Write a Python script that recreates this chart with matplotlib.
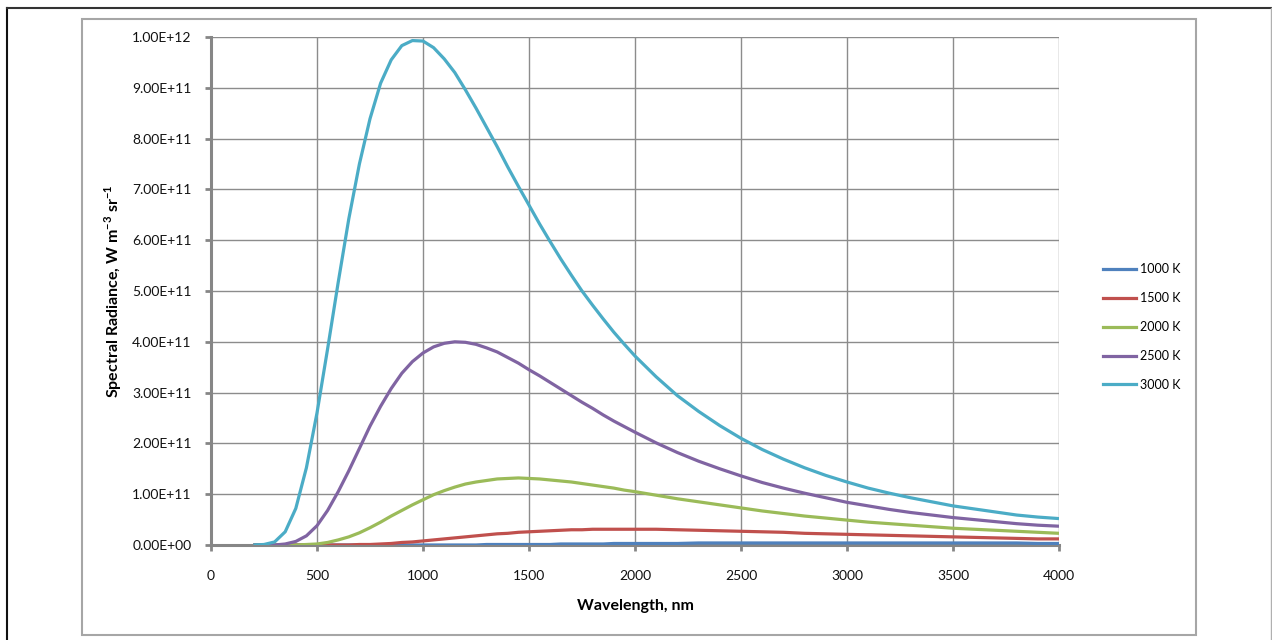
#
# Spectral radiance of a black body at several temperatures (Excel-style chart)
#

import matplotlib
matplotlib.use("Agg")
import matplotlib.pyplot as plt
from matplotlib.ticker import MultipleLocator, FuncFormatter
from matplotlib.lines import Line2D
from matplotlib.patches import Rectangle
import numpy as np

# Wavelength in nm: 50 nm steps up to 2000, then 100 nm steps
wavelength = list(range(200, 2001, 50)) + list(range(2100, 4001, 100))

# Spectral radiance, in units of 1e11 W m^-3 sr^-1
rad_1000 = [0.00] * 16 + [0.00, 0.00, 0.00, 0.00, 0.00, 0.00, 0.01, 0.01, 0.01, 0.01,
                          0.01, 0.01, 0.01, 0.02, 0.02, 0.02, 0.02, 0.02, 0.03, 0.03, 0.03] + \
           [0.03, 0.03, 0.04, 0.04, 0.04, 0.04, 0.04, 0.04, 0.04, 0.04,
            0.04, 0.04, 0.04, 0.04, 0.04, 0.04, 0.04, 0.04, 0.03, 0.03]
rad_1500 = [0.00] * 7 + [0.00, 0.00, 0.00, 0.01, 0.01, 0.02, 0.03, 0.05, 0.06, 0.08,
                         0.10, 0.12, 0.14, 0.16, 0.18, 0.20, 0.22, 0.23, 0.25, 0.26,
                         0.27, 0.28, 0.29, 0.30, 0.30, 0.31, 0.31, 0.31, 0.31, 0.31] + \
           [0.31, 0.30, 0.29, 0.28, 0.27, 0.26, 0.25, 0.23, 0.22, 0.21,
            0.20, 0.19, 0.18, 0.17, 0.16, 0.15, 0.14, 0.13, 0.12, 0.12]
rad_2000 = [0.00, 0.00, 0.00, 0.00, 0.00, 0.01, 0.02, 0.05, 0.10, 0.16,
            0.24, 0.34, 0.45, 0.57, 0.68, 0.79, 0.89, 0.99, 1.07, 1.14,
            1.20, 1.24, 1.27, 1.30, 1.31, 1.32, 1.31, 1.30, 1.28, 1.26,
            1.24, 1.21, 1.18, 1.15, 1.12, 1.08, 1.05,
            0.98, 0.91, 0.85, 0.79, 0.73, 0.67, 0.62, 0.57, 0.53, 0.49,
            0.45, 0.42, 0.39, 0.36, 0.33, 0.31, 0.29, 0.27, 0.25, 0.23]
rad_2500 = [0.00, 0.00, 0.00, 0.02, 0.07, 0.18, 0.38, 0.68, 1.05, 1.46,
            1.90, 2.34, 2.73, 3.08, 3.38, 3.61, 3.78, 3.90, 3.97, 4.00,
            3.99, 3.95, 3.88, 3.80, 3.69, 3.58, 3.45, 3.33, 3.20, 3.07,
            2.94, 2.81, 2.69, 2.56, 2.44, 2.33, 2.22,
            2.01, 1.82, 1.65, 1.50, 1.36, 1.23, 1.12, 1.02, 0.93, 0.84,
            0.77, 0.70, 0.64, 0.59, 0.54, 0.50, 0.46, 0.42, 0.39, 0.37]
rad_3000 = [0.00, 0.01, 0.06, 0.26, 0.72, 1.52, 2.60, 3.86, 5.17, 6.42,
            7.50, 8.39, 9.09, 9.55, 9.83, 9.93, 9.92, 9.79, 9.57, 9.30,
            8.96, 8.60, 8.22, 7.84, 7.44, 7.06, 6.69, 6.32, 5.97, 5.63,
            5.31, 5.00, 4.72, 4.45, 4.19, 3.95, 3.72,
            3.31, 2.94, 2.63, 2.35, 2.10, 1.88, 1.69, 1.52, 1.37, 1.24,
            1.12, 1.02, 0.93, 0.85, 0.77, 0.71, 0.65, 0.59, 0.55, 0.52]

labels = ["1000 K", "1500 K", "2000 K", "2500 K", "3000 K"]
series = [rad_1000, rad_1500, rad_2000, rad_2500, rad_3000]
colors = ["#4F81BD", "#C0504D", "#9BBB59", "#8064A2", "#4BACC6"]

plt.rcParams['font.family'] = ['Lato', 'DejaVu Sans']
plt.rcParams['mathtext.fontset'] = 'custom'
plt.rcParams['mathtext.bf'] = 'Lato:bold'

W, H = 1272, 640
fig = plt.figure(figsize=(W / 100, H / 100), dpi=100)
ax = fig.add_axes([211 / W, 1 - 545 / H, (1059 - 211) / W, (545 - 37) / H])

for vals, col, lab in zip(series, colors, labels):
    ax.plot(wavelength, np.array(vals) * 1e11, color=col, lw=2.3, label=lab,
            solid_capstyle='butt', solid_joinstyle='round', zorder=3)

# Axes styling like Excel 2007
ax.set_xlim(0, 4000)
ax.set_ylim(0, 1e12)
ax.xaxis.set_major_locator(MultipleLocator(500))
ax.yaxis.set_major_locator(MultipleLocator(1e11))
ax.yaxis.set_major_formatter(FuncFormatter(lambda v, p: "{:.2E}".format(v)))
ax.grid(True, color="#8c8c8c", lw=1.0, zorder=0)
for s in ["top", "right"]:
    ax.spines[s].set_visible(False)
for s in ["left", "bottom"]:
    ax.spines[s].set_color("#868686")
    ax.spines[s].set_linewidth(2.2)
    ax.spines[s].set_zorder(2)
ax.tick_params(axis='both', direction='out', length=4, width=2, color="#868686",
               labelsize=10, labelcolor="#111111")
ax.tick_params(axis='y', pad=10)
ax.tick_params(axis='x', pad=14)

ax.set_xlabel("Wavelength, nm", fontsize=11.5, fontweight='bold', labelpad=12)
ax.set_ylabel(r"Spectral Radiance, W m$^{\mathbf{-3}}$ sr$^{\mathbf{-1}}$",
              fontsize=11.5, fontweight='bold', labelpad=6)

# Legend on the right, no frame
handles = [Line2D([0], [0], color=c, lw=2.3) for c in colors]
fig.legend(handles, labels, loc='center left', bbox_to_anchor=(1092 / W, 1 - 327 / H),
           frameon=False, fontsize=9, handlelength=2.6, handletextpad=0.3,
           labelspacing=1.35)

# Plot-area and chart-area borders
fig.patches.append(Rectangle((82 / W, 1 - 635 / H), (1196 - 82) / W, (635 - 19) / H,
                             transform=fig.transFigure, fill=False,
                             edgecolor="#a6a6a6", lw=1.5))
fig.lines.append(Line2D([7 / W, 7 / W], [0, 1 - 8 / H], transform=fig.transFigure,
                        color="#111111", lw=1.5))
fig.lines.append(Line2D([7 / W, 1271 / W], [1 - 8 / H, 1 - 8 / H], transform=fig.transFigure,
                        color="#333333", lw=1.5))
fig.lines.append(Line2D([1270.5 / W, 1270.5 / W], [0, 1 - 8 / H], transform=fig.transFigure,
                        color="#b0b0b0", lw=1.0))

plt.savefig("out.png", dpi=100)
